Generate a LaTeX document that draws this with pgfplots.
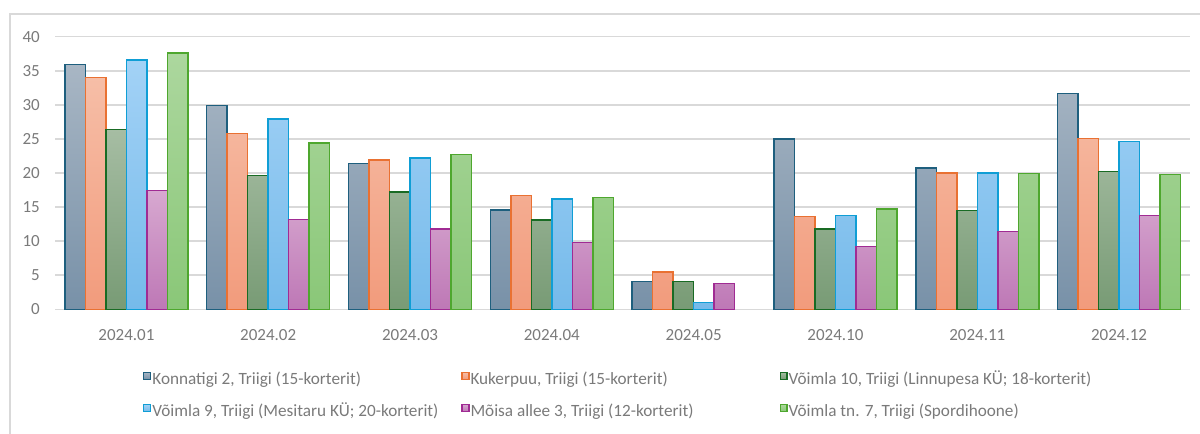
\documentclass[border=0pt]{standalone}
\usepackage{pgfplots}
\pgfplotsset{compat=1.18}
\usepackage{fontspec}
\setmainfont{Carlito}
\definecolor{tg}{RGB}{122,122,122}
\definecolor{gridc}{RGB}{217,217,217}
\definecolor{b1}{RGB}{30,95,126}\definecolor{t1}{RGB}{168,182,196}\definecolor{u1}{RGB}{120,145,168}
\definecolor{b2}{RGB}{233,113,50}\definecolor{t2}{RGB}{246,190,167}\definecolor{u2}{RGB}{242,155,124}
\definecolor{b3}{RGB}{25,107,36}\definecolor{t3}{RGB}{166,189,163}\definecolor{u3}{RGB}{120,155,117}
\definecolor{b4}{RGB}{15,158,213}\definecolor{t4}{RGB}{163,210,246}\definecolor{u4}{RGB}{117,186,234}
\definecolor{b5}{RGB}{160,43,147}\definecolor{t5}{RGB}{215,168,208}\definecolor{u5}{RGB}{190,120,182}
\definecolor{b6}{RGB}{78,167,46}\definecolor{t6}{RGB}{172,215,158}\definecolor{u6}{RGB}{138,199,120}
\newcommand{\lt}[1]{\makebox[232.5pt][l]{\hspace{0.75pt}#1}}
\begin{document}
\begin{tikzpicture}
\useasboundingbox (-41.625pt,-93.525pt) rectangle (858.375pt,231.975pt);
\draw[gridc, line width=1.1pt] (-34.125pt,-93.525pt) -- (-34.125pt,221.475pt) -- (858.375pt,221.475pt);
\begin{axis}[
  at={(0pt,0pt)}, anchor=south west,
  scale only axis, width=850.875pt, height=204.45pt,
  xmin=-0.5, xmax=7.5, ymin=0, ymax=40,
  ytick={0,5,...,40},
  xtick={0,...,7},
  xticklabels={2024.01,2024.02,2024.03,2024.04,2024.05,2024.10,2024.11,2024.12},
  ybar=0pt, bar width=15.375pt,
  axis line style={draw=none},
  major tick length=0pt,
  ymajorgrids, grid style={gridc, line width=1.1pt},
  /pgf/number format/assume math mode=true,
  tick label style={font=\fontsize{12.75}{15}\selectfont, text=tg},
  xticklabel style={anchor=base, yshift=-23.1pt},
  yticklabel style={anchor=east, inner sep=0pt, xshift=-11.6pt},
  legend columns=3,
  legend cell align=left,
  legend image code/.code={\draw[#1, line width=0.9pt] (0pt,1.1pt) rectangle (5.2pt,6.4pt);},
  legend style={at={(0.0771,-0.2274)}, anchor=north west, draw=none, fill=none,
    inner sep=0pt, column sep=0pt, row sep=11.25pt,
    nodes={inner sep=0pt, text height=9pt, text depth=3pt,
      font=\fontsize{12.9}{15}\selectfont, text=tg}},
]
\addplot[draw=b1, line width=1.1pt, top color=t1, bottom color=u1] coordinates {(0,35.9) (1,29.9) (2,21.4) (3,14.6) (4,4.05) (5,25.0) (6,20.7) (7,31.7)};
\addlegendentry{\lt{Konnatigi 2, Triigi (15-korterit)}}
\addplot[draw=b2, line width=1.1pt, top color=t2, bottom color=u2] coordinates {(0,34.0) (1,25.8) (2,21.9) (3,16.7) (4,5.5) (5,13.6) (6,20.0) (7,25.1)};
\addlegendentry{\lt{Kukerpuu, Triigi (15-korterit)}}
\addplot[draw=b3, line width=1.1pt, top color=t3, bottom color=u3] coordinates {(0,26.4) (1,19.6) (2,17.2) (3,13.1) (4,4.05) (5,11.8) (6,14.5) (7,20.2)};
\addlegendentry{\lt{Võimla 10, Triigi (Linnupesa KÜ; 18-korterit)}}
\addplot[draw=b4, line width=1.1pt, top color=t4, bottom color=u4] coordinates {(0,36.6) (1,27.9) (2,22.2) (3,16.2) (4,1.0) (5,13.8) (6,20.0) (7,24.6)};
\addlegendentry{\lt{Võimla 9, Triigi (Mesitaru KÜ; 20-korterit)}}
\addplot[draw=b5, line width=1.1pt, top color=t5, bottom color=u5] coordinates {(0,17.4) (1,13.2) (2,11.8) (3,9.8) (4,3.75) (5,9.2) (6,11.4) (7,13.8)};
\addlegendentry{\lt{Mõisa allee 3, Triigi (12-korterit)}}
\addplot[draw=b6, line width=1.1pt, top color=t6, bottom color=u6] coordinates {(0,37.6) (1,24.4) (2,22.7) (3,16.4) (5,14.7) (6,19.9) (7,19.8)};
\addlegendentry{\lt{Võimla tn. 7, Triigi (Spordihoone)}}
\end{axis}
\end{tikzpicture}
\end{document}
